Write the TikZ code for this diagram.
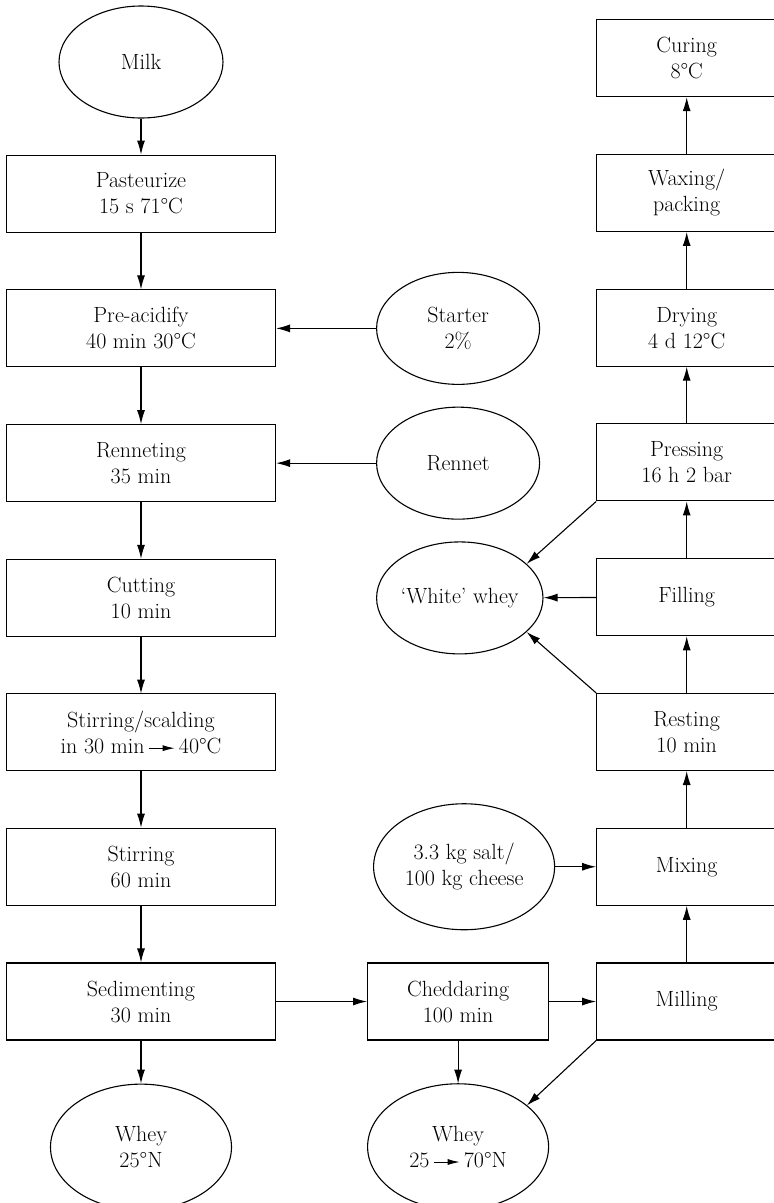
\documentclass[tikz,border=0pt]{standalone}
\usepackage{fontspec}
\usepackage{tikz}
\usetikzlibrary{arrows.meta, positioning, shapes.geometric}

\newcommand{\yields}{\tikz[baseline=-0.55ex]\draw[line width=1pt,-{Latex[length=12pt,width=6pt]}] (0,0) -- (26pt,0);}

\begin{document}
\begin{tikzpicture}[
  x=1pt, y=-1pt, line width=1.1pt,
  box/.style={draw, minimum width=269pt, minimum height=77pt, align=center, inner sep=2pt, font=\fontsize{22}{26}\selectfont},
  rbox/.style={box, minimum width=180pt},
  feed/.style={draw, ellipse, minimum width=163pt, minimum height=112pt, align=center, inner sep=0pt, font=\fontsize{22}{26}\selectfont},
  bigfeed/.style={feed, minimum width=181pt, minimum height=126pt},
  >={Latex[length=14pt,width=8pt]}, node distance=56.67pt
]
\useasboundingbox (0,0) rectangle (774,1203);

% main line
\node[feed, minimum width=164pt] (milk) at (141,62) {Milk};
\node[box, below=36pt of milk]  (pasteur)   {Pasteurize\\15 s 71°C};
\node[box, below=of pasteur]    (preacid)   {Pre-acidify\\40 min 30°C};
\node[box, below=of preacid]    (renneting) {Renneting\\35 min};
\node[box, below=of renneting]  (cutting)   {Cutting\\10 min};
\node[box, below=of cutting]    (scald)     {Stirring/scalding\\in 30 min\,\yields\,40°C};
\node[box, below=of scald]      (stirring)  {Stirring\\60 min};
\node[box, below=of stirring]   (sediment)  {Sedimenting\\30 min};
\node[bigfeed, below=43pt of sediment] (whey) {Whey\\25°N};

% additions and by-products
\node[feed, right=100pt of preacid]   (starter) {Starter\\2\%};
\node[feed, right=100pt of renneting] (rennet)  {Rennet};
\node[feed, right=100pt of cutting]   (wwhey)   {‘White’ whey};
\node[bigfeed, right=97pt of stirring] (salt)   {3.3 kg salt/\\100 kg cheese};
\node[box, minimum width=181pt, right=91pt of sediment] (chedd) {Cheddaring\\100 min};
\node[bigfeed, below=43pt of chedd] (whey2) {Whey\\25\,\yields\,70°N};

% finishing line
\node[rbox, right=47pt of chedd] (milling)  {Milling};
\node[rbox, above=of milling]    (mixing)   {Mixing};
\node[rbox, above=of mixing]     (resting)  {Resting\\10 min};
\node[rbox, above=of resting]    (filling)  {Filling};
\node[rbox, above=of filling]    (pressing) {Pressing\\16 h 2 bar};
\node[rbox, above=of pressing]   (drying)   {Drying\\4 d 12°C};
\node[rbox, above=of drying]     (waxing)   {Waxing/\\packing};
\node[rbox, above=of waxing]     (curing)   {Curing\\8°C};

\draw[->] (milk)      -- (pasteur);
\draw[->] (pasteur)   -- (preacid);
\draw[->] (preacid)   -- (renneting);
\draw[->] (renneting) -- (cutting);
\draw[->] (cutting)   -- (scald);
\draw[->] (scald)     -- (stirring);
\draw[->] (stirring)  -- (sediment);
\draw[->] (sediment)  -- (whey);

\draw[->] (starter)  -- (preacid);
\draw[->] (rennet)   -- (renneting);
\draw[->] (sediment) -- (chedd);
\draw[->] (chedd)    -- (whey2);
\draw[->] (chedd)    -- (milling);
\draw[->] (salt)     -- (mixing);

\draw[->] (milling)  -- (mixing);
\draw[->] (mixing)   -- (resting);
\draw[->] (resting)  -- (filling);
\draw[->] (filling)  -- (pressing);
\draw[->] (pressing) -- (drying);
\draw[->] (drying)   -- (waxing);
\draw[->] (waxing)   -- (curing);

\draw[->] (filling)             -- (wwhey);
\draw[->] (pressing.south west) -- (wwhey.27);
\draw[->] (resting.north west)  -- (wwhey.-27);
\draw[->] (milling.south west)  -- (whey2.31);
\end{tikzpicture}
\end{document}
